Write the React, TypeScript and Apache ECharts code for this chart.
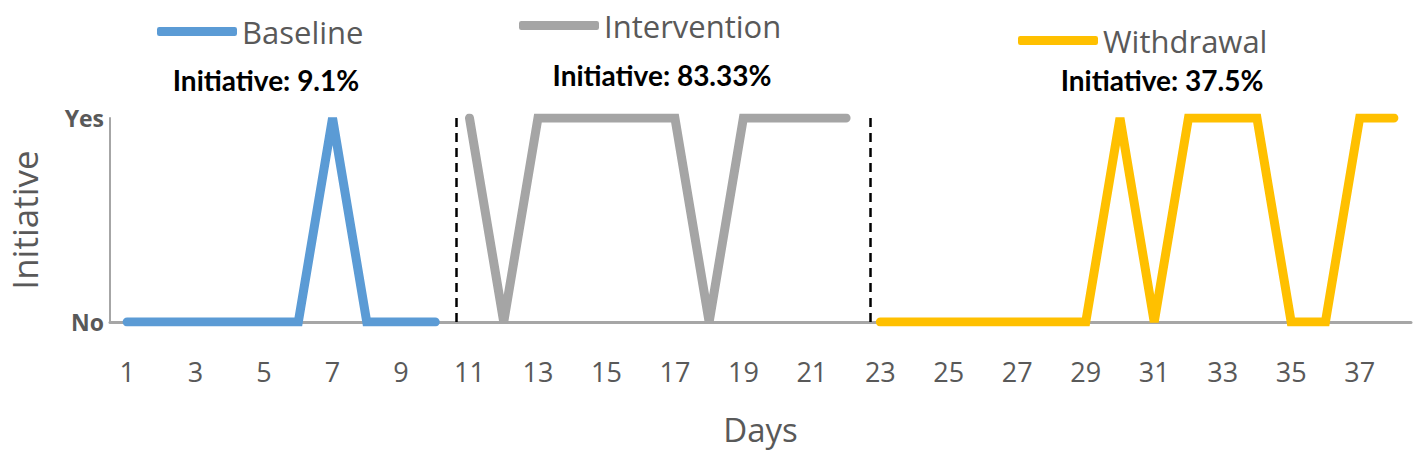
import React, { useRef, useEffect } from 'react';
import * as echarts from 'echarts';

const days = Array.from({ length: 38 }, (_, i) => String(i + 1));
const yTickLabels = ['No', 'Yes'];

// 0 = No, 1 = Yes, null = outside the phase
const baseline = [0, 0, 0, 0, 0, 0, 1, 0, 0, 0];
const intervention = [1, 0, 1, 1, 1, 1, 1, 0, 1, 1, 1, 1];
const withdrawal = [0, 0, 0, 0, 0, 0, 0, 1, 0, 1, 1, 1, 0, 0, 1, 1];

const phaseNames = ['Baseline', 'Intervention', 'Withdrawal'];
const phaseColors = ['#5B9BD5', '#A5A5A5', '#FFC000'];
const phaseNotes = ['Initiative: 9.1%', 'Initiative: 83.33%', 'Initiative: 37.5%'];
const phaseBreaks = [10.6, 22.7];

const FONT = '"Open Sans", "Noto Sans", sans-serif';
const GRAY_TEXT = '#595959';

function pad(values: number[], start: number) {
  return days.map((_, i) => (i >= start && i < start + values.length ? values[i - start] : null));
}

export default function App() {
  const chartRef = useRef<HTMLDivElement>(null);

  useEffect(() => {
    document.body.style.margin = '0';
    if (!chartRef.current) return;
    const chart = echarts.init(chartRef.current, undefined, { renderer: 'svg' });

    const phases = [
      pad(baseline, 0),
      pad(intervention, baseline.length),
      pad(withdrawal, baseline.length + intervention.length),
    ];

    const legendPos = [
      { left: 152, top: 11 },
      { left: 514, top: 5 },
      { left: 1013, top: 20 },
    ];
    const notePos = [
      { x: 266, y: 80 },
      { x: 662, y: 75 },
      { x: 1162, y: 80 },
    ];

    const option: echarts.EChartsOption = {
      animation: false,
      backgroundColor: '#fff',
      grid: { left: 110, right: 6, top: 118, bottom: 136, outerBoundsMode: 'none' } as any,
      legend: phaseNames.map((name, i) => ({
        data: [name],
        left: legendPos[i].left,
        top: legendPos[i].top,
        icon: 'roundRect',
        itemWidth: 80,
        itemHeight: 9,
        selectedMode: false,
        textStyle: { fontFamily: FONT, fontSize: 31, color: GRAY_TEXT },
      })),
      graphic: phaseNotes.map((text, i) => ({
        type: 'text',
        x: notePos[i].x,
        y: notePos[i].y,
        style: {
          text,
          fontFamily: 'Lato, "Open Sans", sans-serif',
          fontWeight: 'bold',
          fontSize: 28,
          fill: '#000',
          textAlign: 'center',
          textVerticalAlign: 'middle',
        },
      })),
      xAxis: [
        {
          type: 'category',
          data: days,
          boundaryGap: true,
          name: 'Days',
          nameLocation: 'middle',
          nameGap: 91,
          nameTextStyle: { fontFamily: FONT, fontSize: 33, color: GRAY_TEXT },
          axisLine: { lineStyle: { color: '#A6A6A6', width: 3 } },
          axisTick: { show: false },
          axisLabel: { interval: 1, margin: 36, fontFamily: FONT, fontSize: 27, color: GRAY_TEXT },
        },
        {
          type: 'value',
          min: 0.5,
          max: 38.5,
          show: false,
        },
      ],
      yAxis: {
        type: 'value',
        min: 0,
        max: 1,
        interval: 1,
        name: 'Initiative',
        nameLocation: 'middle',
        nameGap: 68,
        nameTextStyle: { fontFamily: FONT, fontSize: 35, color: GRAY_TEXT },
        axisLine: { show: true, lineStyle: { color: '#A6A6A6', width: 2 } },
        axisTick: { show: false },
        splitLine: { show: false },
        axisLabel: {
          margin: 6,
          fontFamily: FONT,
          fontWeight: 'bold',
          fontSize: 23,
          color: GRAY_TEXT,
          formatter: (v: number) => yTickLabels[v] ?? '',
        },
      },
      series: [
        ...phases.map((data, i) => ({
          name: phaseNames[i],
          type: 'line' as const,
          data,
          showSymbol: false,
          symbol: 'none',
          color: phaseColors[i],
          lineStyle: { color: phaseColors[i], width: 9, cap: 'round' as const, join: 'miter' as const },
          z: 3,
        })),
        {
          type: 'line',
          xAxisIndex: 1,
          data: [],
          silent: true,
          markLine: {
            symbol: 'none',
            silent: true,
            label: { show: false },
            lineStyle: { color: '#000', width: 2.5, type: [9, 6] },
            data: phaseBreaks.map((x) => ({ xAxis: x })),
          },
        },
      ],
    };

    chart.setOption(option);
    return () => chart.dispose();
  }, []);

  return <div ref={chartRef} style={{ width: 1417, height: 458 }} />;
}
